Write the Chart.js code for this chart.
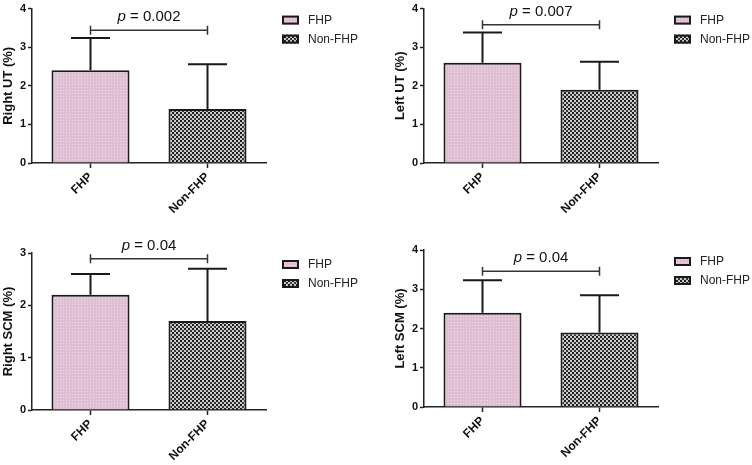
<!DOCTYPE html>
<html>
<head>
<meta charset="utf-8">
<script src="https://cdn.jsdelivr.net/npm/chart.js@4.4.1/dist/chart.umd.min.js"></script>
<style>
    body { margin: 0; background: #fff; }
    #wrap { position: relative; width: 752px; height: 465px; }
    canvas { position: absolute; }
</style>
</head>
<body>
<div id="wrap">
    <canvas id="c1" width="376" height="232" style="left:0;top:0"></canvas>
    <canvas id="c2" width="376" height="232" style="left:376px;top:0"></canvas>
    <canvas id="c3" width="376" height="233" style="left:0;top:232px"></canvas>
    <canvas id="c4" width="376" height="233" style="left:376px;top:232px"></canvas>
</div>
<script>
const groups = ['FHP', 'Non-FHP'];
const axisTitles = ['Right UT (%)', 'Left UT (%)', 'Right SCM (%)', 'Left SCM (%)'];

const rightUT = [2.4, 1.4];
const rightUTsd = [0.84, 1.16];
const leftUT = [2.6, 1.9];
const leftUTsd = [0.78, 0.72];
const rightSCM = [2.2, 1.7];
const rightSCMsd = [0.4, 1.0];
const leftSCM = [2.4, 1.9];
const leftSCMsd = [0.83, 0.95];

const yMax = [4, 4, 3, 4];
const pValues = ['0.002', '0.007', '0.04', '0.04'];
const bracketLevel = [3.44, 3.58, 2.89, 3.46];

const FONT = '"Liberation Sans", Arial, sans-serif';

function makePattern(size, draw) {
    const c = document.createElement('canvas');
    c.width = size;
    c.height = size;
    const g = c.getContext('2d');
    draw(g);
    return g.createPattern(c, 'repeat');
}

const pinkFill = makePattern(3, g => {
    g.fillStyle = '#e0bed3';
    g.fillRect(0, 0, 3, 3);
    g.fillStyle = '#eedbe7';
    g.fillRect(0, 0, 1, 1);
});
const checkFill = makePattern(4, g => {
    g.fillStyle = '#c8c8c8';
    g.fillRect(0, 0, 4, 4);
    g.fillStyle = '#1e1e1e';
    g.fillRect(0, 0, 2, 2);
    g.fillStyle = '#363636';
    g.fillRect(2, 2, 2, 2);
});
const fills = [pinkFill, checkFill];

// error bars, significance bracket and legend
const extras = {
    id: 'extras',
    afterDatasetsDraw(chart, args, opts) {
        const ctx = chart.ctx;
        const y = chart.scales.y;
        const bars = chart.getDatasetMeta(0).data;
        ctx.save();
        ctx.strokeStyle = '#1a1a1a';
        ctx.lineWidth = 2;
        bars.forEach((bar, i) => {
            const top = y.getPixelForValue(opts.means[i] + opts.sd[i]);
            const half = bar.width / 4;
            ctx.beginPath();
            ctx.moveTo(bar.x, bar.y);
            ctx.lineTo(bar.x, top);
            ctx.moveTo(bar.x - half, top);
            ctx.lineTo(bar.x + half, top);
            ctx.stroke();
        });

        const by = y.getPixelForValue(opts.bracket);
        ctx.strokeStyle = '#333';
        ctx.lineWidth = 1.5;
        ctx.beginPath();
        ctx.moveTo(bars[0].x, by);
        ctx.lineTo(bars[1].x, by);
        ctx.moveTo(bars[0].x, by - 4.5);
        ctx.lineTo(bars[0].x, by + 4.5);
        ctx.moveTo(bars[1].x, by - 4.5);
        ctx.lineTo(bars[1].x, by + 4.5);
        ctx.stroke();

        const mid = (bars[0].x + bars[1].x) / 2;
        ctx.fillStyle = '#111';
        ctx.textBaseline = 'alphabetic';
        ctx.textAlign = 'left';
        ctx.font = 'italic 15px ' + FONT;
        const w1 = ctx.measureText('p').width;
        ctx.font = '15px ' + FONT;
        const rest = ' = ' + opts.p;
        const w2 = ctx.measureText(rest).width;
        const x0 = mid - (w1 + w2) / 2;
        ctx.font = 'italic 15px ' + FONT;
        ctx.fillText('p', x0, by - 9);
        ctx.font = '15px ' + FONT;
        ctx.fillText(rest, x0 + w1, by - 9);

        const area = chart.chartArea;
        const lx = area.right + 16;
        const ly = area.top + 7;
        groups.forEach((name, i) => {
            const sy = ly + i * 19;
            ctx.fillStyle = fills[i];
            ctx.fillRect(lx, sy, 17, 9);
            ctx.strokeStyle = '#1a1a1a';
            ctx.lineWidth = 2;
            ctx.strokeRect(lx + 1, sy + 1, 15, 7);
            ctx.fillStyle = '#222';
            ctx.font = '12px ' + FONT;
            ctx.textBaseline = 'middle';
            ctx.fillText(name, lx + 26, sy + 5);
        });
        ctx.restore();
    }
};

const panels = [
    { id: 'c1', means: rightUT, sd: rightUTsd, left: 0, top: 6, right: 110, xH: 69 },
    { id: 'c2', means: leftUT, sd: leftUTsd, left: 16, top: 6, right: 94, xH: 69 },
    { id: 'c3', means: rightSCM, sd: rightSCMsd, left: 0, top: 21, right: 110, xH: 55 },
    { id: 'c4', means: leftSCM, sd: leftSCMsd, left: 16, top: 18, right: 94, xH: 58 }
];

panels.forEach((p, k) => {
    new Chart(document.getElementById(p.id), {
        type: 'bar',
        data: {
            labels: groups,
            datasets: [{
                data: p.means,
                backgroundColor: fills,
                borderColor: '#1a1a1a',
                borderWidth: 2,
                borderSkipped: 'start',
                categoryPercentage: 1,
                barPercentage: 0.667
            }]
        },
        options: {
            responsive: false,
            animation: false,
            layout: { padding: { left: p.left, top: p.top, right: p.right, bottom: 0 } },
            plugins: {
                legend: { display: false },
                tooltip: { enabled: false },
                extras: { means: p.means, sd: p.sd, bracket: bracketLevel[k], p: pValues[k] }
            },
            scales: {
                x: {
                    grid: { offset: false, drawOnChartArea: false, tickLength: 5, tickColor: '#222', tickWidth: 1.5 },
                    border: { color: '#222', width: 1.5 },
                    ticks: { color: '#111', font: { family: FONT, size: 12, weight: 'bold' }, minRotation: 45, maxRotation: 45, padding: 2 },
                    afterFit: s => { s.height = p.xH; }
                },
                y: {
                    min: 0,
                    max: yMax[k],
                    ticks: { stepSize: 1, color: '#111', font: { family: FONT, size: 11, weight: 'bold' }, padding: 2 },
                    grid: { drawOnChartArea: false, tickLength: 4, tickColor: '#222', tickWidth: 1.5 },
                    border: { color: '#222', width: 1.5 },
                    title: {
                        display: true,
                        text: axisTitles[k],
                        color: '#111',
                        font: { family: FONT, size: 13, weight: 'bold' },
                        padding: { top: 1, bottom: 0 }
                    },
                    afterFit: s => { s.width = 32; }
                }
            }
        },
        plugins: [extras]
    });
});
</script>
</body>
</html>
